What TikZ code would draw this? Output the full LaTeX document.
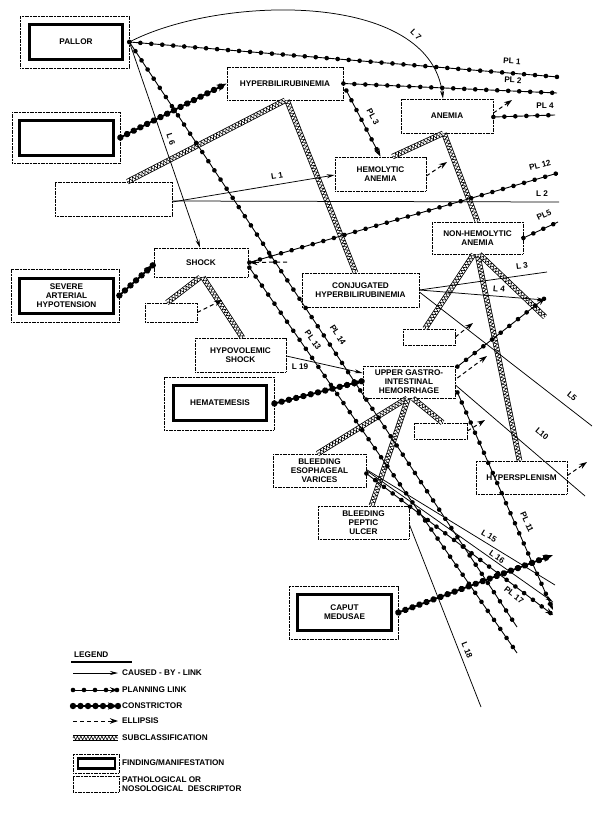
\documentclass[tikz,border=0pt]{standalone}
\usepackage{fontspec}
\setmainfont{Liberation Sans}
\usetikzlibrary{arrows.meta,decorations.markings,decorations.pathmorphing,calc}
\begin{document}
\begin{tikzpicture}[x=1pt,y=-1pt,
  every node/.style={font=\fontsize{8.2}{9}\selectfont\bfseries},
  desc/.style={draw, line width=0.75pt, dash pattern=on 1.2pt off 0.4pt, inner sep=0pt, align=center},
  findout/.style={draw, line width=0.75pt, dash pattern=on 1.2pt off 0.4pt, inner sep=0pt},
  findin/.style={draw, line width=2.8pt, inner sep=0pt, align=center},
  lab/.style={inner sep=0.5pt},
  cause/.style={line width=0.75pt},
  causearr/.style={cause, -{Stealth[length=8pt,width=4pt]}},
  plan/.style={line width=0.9pt, postaction={decorate, decoration={markings, mark=between positions 0 and 1 step 11pt with {\fill (0,0) circle (2.3pt);}}}},
  planarr/.style={plan, -{Stealth[length=8pt,width=5.5pt]}},
  constr/.style={line width=1.8pt, -{Stealth[length=10pt,width=7pt]}, postaction={decorate, decoration={markings, mark=between positions 0 and 1 step 7.5pt with {\fill (0,0) circle (3.2pt);}}}},
  ellip/.style={line width=1pt, dash pattern=on 4pt off 3pt, -{Stealth[length=8pt,width=5.5pt]}},
  subcl/.style={draw=black, line width=5.5pt, postaction={draw=white, line width=3.9pt}, postaction={draw=black, line width=0.6pt, decorate, decoration={zigzag, segment length=3.5pt, amplitude=1.9pt}}},
]
\path[fill=white] (0,0) rectangle (600,813);
\useasboundingbox (0,0) rectangle (600,813);

% ---------- boxes ----------
\node[findout, minimum width=109, minimum height=52] (pallorout) at (74.5,42) {};
\node[findin, minimum width=93, minimum height=35] (pallor) at (76,42) {PALLOR};
\node[findout, minimum width=108, minimum height=51] (box2out) at (66,137.5) {};
\node[findin, minimum width=94, minimum height=35] (box2) at (66.5,138) {};
\node[desc, minimum width=117, minimum height=34] (box3) at (113.5,199) {};
\node[desc, minimum width=116, minimum height=33] (hyperbili) at (285,83.5) {HYPERBILIRUBINEMIA};
\node[desc, minimum width=92, minimum height=34] (anemia) at (447,116) {ANEMIA};
\node[desc, minimum width=91, minimum height=34] (hemolytic) at (380.5,174) {HEMOLYTIC\\ANEMIA};
\node[desc, minimum width=91, minimum height=32] (nonhem) at (477.5,238) {NON-HEMOLYTIC\\ANEMIA};
\node[desc, minimum width=117, minimum height=34] (conj) at (360.5,290) {CONJUGATED\\HYPERBILIRUBINEMIA};
\node[desc, minimum width=52, minimum height=16] (smallR) at (429,337) {};
\node[desc, minimum width=94, minimum height=29] (shock) at (201,262.5) {SHOCK};
\node[findout, minimum width=108, minimum height=53] (severeout) at (65,295.5) {};
\node[findin, minimum width=94, minimum height=35] (severe) at (66.5,296) {SEVERE\\ARTERIAL\\HYPOTENSION};
\node[desc, minimum width=52, minimum height=19] (smallS) at (171,312.5) {};
\node[desc, minimum width=91, minimum height=34] (hypovol) at (240.5,355) {HYPOVOLEMIC\\SHOCK};
\node[findout, minimum width=110, minimum height=53] (hematout) at (219,403.5) {};
\node[findin, minimum width=93, minimum height=35] (hemat) at (220,403) {HEMATEMESIS};
\node[desc, minimum width=92, minimum height=32] (ugi) at (409,382) {UPPER GASTRO-\\INTESTINAL\\HEMORRHAGE};
\node[desc, minimum width=53, minimum height=16] (smallU) at (440.5,431) {};
\node[desc, minimum width=93, minimum height=33] (esoph) at (319.5,470.5) {BLEEDING\\ESOPHAGEAL\\VARICES};
\node[desc, minimum width=91, minimum height=33] (peptic) at (363.5,522.5) {BLEEDING\\PEPTIC\\ULCER};
\node[desc, minimum width=91, minimum height=33] (hypersp) at (521.5,477.5) {HYPERSPLENISM};
\node[findout, minimum width=109, minimum height=53] (caputout) at (343.5,612.5) {};
\node[findin, minimum width=94, minimum height=36] (caput) at (344.5,612.5) {CAPUT\\MEDUSAE};

% ---------- free ends ----------
\coordinate (pl1e) at (558,77);
\coordinate (pl2e) at (557,93);
\coordinate (pl4e) at (555,115);
\coordinate (pl5e) at (558,222);
\coordinate (pl12e) at (558,173);
\coordinate (l2e) at (559,202);
\coordinate (l3e) at (547,272);
\coordinate (l4e) at (545,300);
\coordinate (ugiple) at (545,298);
\coordinate (l5e) at (592,426);
\coordinate (l10e) at (585,496);
\coordinate (pl11e) at (553,610);
\coordinate (l15e) at (555,585);
\coordinate (l16e) at (553,602);
\coordinate (pl17e) at (553,615);
\coordinate (pl13e) at (517,653);
\coordinate (pl14e) at (517,627);
\coordinate (l18e) at (481,707);
\coordinate (c4e) at (553,555);
\coordinate (s6e) at (545,317);
\coordinate (e1) at (512,100);
\coordinate (e2) at (447,162);
\coordinate (e3) at (222,300);
\coordinate (e4) at (473,323);
\coordinate (e5) at (487,356);
\coordinate (e6) at (485,420);
\coordinate (e7) at (587,462);
\coordinate (e8) at (287,262);

% ---------- subclassifications ----------
\draw[subcl] (hyperbili.south) -- ($(box3.north)+(14,0)$);
\draw[subcl] ($(hyperbili.south)+(2,0)$) -- ($(conj.north)+(-5,0)$);
\draw[subcl] ($(anemia.south)+(-4,0)$) -- ($(hemolytic.north)+(12,0)$);
\draw[subcl] ($(anemia.south)+(-3,0)$) -- (nonhem.north);
\draw[subcl] ($(nonhem.south)+(-4,0)$) -- ($(smallR.north)+(-4,0)$);
\draw[subcl] (nonhem.south) -- ($(hypersp.north)+(-2,0)$);
\draw[subcl] ($(nonhem.south)+(2,0)$) -- (s6e);
\draw[subcl] ($(shock.south)+(-1,0)$) -- ($(smallS.north)+(-4,0)$);
\draw[subcl] ($(shock.south)+(2,0)$) -- ($(hypovol.north)+(2,0)$);
\draw[subcl] ($(ugi.south)+(-2,0)$) -- ($(esoph.north)+(-2,0)$);
\draw[subcl] ($(ugi.south)+(-1,0)$) -- ($(peptic.north)+(8,0)$);
\draw[subcl] ($(ugi.south)+(4,0)$) -- ($(smallU.north)+(2,0)$);

% ---------- caused-by links ----------
\draw[causearr] (pallorout.east) .. controls (220,-5) and (430,-10) .. ($(anemia.north)+(-4,0)$);
\draw[causearr] (pallorout.east) -- ($(shock.north)+(-1,0)$);
\draw[causearr] ($(box3.east)+(0,3)$) -- ($(hemolytic.west)+(0,1)$);
\draw[cause] ($(box3.east)+(0,2)$) -- (l2e);
\draw[cause] (conj.east) -- (l3e);
\draw[causearr] (conj.east) -- (l4e);
\draw[cause] ($(conj.east)+(0,2)$) -- (l5e);
\draw[cause] ($(ugi.east)+(0,3)$) -- (l10e);
\draw[causearr] ($(hypovol.east)+(0,1)$) -- ($(ugi.west)+(0,-9)$);
\draw[cause] ($(esoph.east)+(0,-1)$) -- (l15e);
\draw[causearr] (esoph.east) -- (l16e);
\draw[cause] ($(peptic.east)+(0,2)$) -- (l18e);

% ---------- planning links ----------
\draw[plan] (pallorout.east) -- (pl1e);
\draw[plan] (pallorout.east) -- (pl14e);
\draw[plan] (hyperbili.east) -- (pl2e);
\draw[planarr] ($(hyperbili.east)+(3,7)$) -- (hemolytic.north);
\draw[plan] ($(anemia.east)+(0,1)$) -- (pl4e);
\draw[plan] (nonhem.east) -- (pl5e);
\draw[plan] ($(shock.east)+(1,0)$) -- (pl12e);
\draw[plan] ($(shock.east)+(1,5)$) -- (pl13e);
\draw[planarr] ($(ugi.north east)+(2,1)$) -- (ugiple);
\draw[planarr] ($(ugi.south east)+(2,-6)$) -- (pl11e);
\draw[planarr] ($(esoph.east)+(0,3)$) -- (pl17e);

% ---------- constrictors ----------
\draw[constr] (box2out.east) -- (hyperbili.west);
\draw[constr] (severeout.east) -- ($(shock.west)+(0,2)$);
\draw[constr] (hematout.east) -- ($(ugi.west)+(0,-1)$);
\draw[constr] (caputout.east) -- (c4e);

% ---------- ellipses ----------
\draw[ellip] ($(anemia.east)+(0,-3)$) -- (e1);
\draw[ellip] ($(hemolytic.east)+(0,2)$) -- (e2);
\draw[ellip] (smallS.east) -- (e3);
\draw[ellip] (smallR.east) -- (e4);
\draw[ellip] ($(ugi.east)+(2,-4)$) -- (e5);
\draw[ellip] (smallU.east) -- (e6);
\draw[ellip] ($(hypersp.east)+(0,-2)$) -- (e7);
\draw[ellip] (e8) -- ($(shock.east)+(1,0)$);

% ---------- link labels ----------
\node[lab, rotate=-45] (tl7) at (416,35) {L 7};
\node[lab, rotate=-72] (tl6) at (171,139) {L 6};
\node[lab, rotate=9] (tl1) at (277,176) {L 1};
\node[lab] (tl2) at (542,194) {L 2};
\node[lab, rotate=-4] (tpl1) at (512,61) {PL 1};
\node[lab, rotate=-2] (tpl2) at (513,80) {PL 2};
\node[lab, rotate=-62] (tpl3) at (373,117) {PL 3};
\node[lab] (tpl4) at (545,106) {PL 4};
\node[lab, rotate=25] (tpl5) at (544,215) {PL5};
\node[lab, rotate=15] (tpl12) at (540,165) {PL 12};
\node[lab, rotate=8] (tl3) at (522,266) {L 3};
\node[lab, rotate=-6] (tl4) at (499,289) {L 4};
\node[lab, rotate=-40] (tl5) at (572,396) {L5};
\node[lab, rotate=-40] (tl10) at (542,434) {L10};
\node[lab] (tl19) at (300,367) {L 19};
\node[lab, rotate=-57] (tpl14) at (338,335) {PL 14};
\node[lab, rotate=-55] (tpl13) at (313,340) {PL 13};
\node[lab, rotate=-66] (tpl11) at (527,522) {PL 11};
\node[lab, rotate=-31] (tl15) at (489,536) {L 15};
\node[lab, rotate=-35] (tl16) at (497,557) {L 16};
\node[lab, rotate=-38] (tpl17) at (514,595) {PL 17};
\node[lab, rotate=-68] (tl18) at (467,650) {L 18};

% ---------- legend ----------
\node[anchor=west, inner sep=0pt] (lgtitle) at (74,655) {LEGEND};
\coordinate (lgu1) at (71,662); \coordinate (lgu2) at (132,662);
\draw[line width=1.3pt] (lgu1) -- (lgu2);
\coordinate (lga1) at (73,673); \coordinate (lgb1) at (118,673);
\coordinate (lga2) at (73,690); \coordinate (lgb2) at (118,690);
\coordinate (lga3) at (73,706); \coordinate (lgb3) at (118,706);
\coordinate (lga4) at (73,721); \coordinate (lgb4) at (118,721);
\coordinate (lga5) at (73,738); \coordinate (lgb5) at (118,738);
\draw[causearr] (lga1) -- (lgb1);
\draw[planarr] (lga2) -- (lgb2);
\draw[constr] (lga3) -- (lgb3);
\draw[ellip] (lga4) -- (lgb4);
\draw[subcl] (lga5) -- (lgb5);
\node[anchor=west, inner sep=0pt] (lgt1) at (122,673) {CAUSED - BY - LINK};
\node[anchor=west, inner sep=0pt] (lgt2) at (122,690) {PLANNING LINK};
\node[anchor=west, inner sep=0pt] (lgt3) at (122,706) {CONSTRICTOR};
\node[anchor=west, inner sep=0pt] (lgt4) at (122,721) {ELLIPSIS};
\node[anchor=west, inner sep=0pt] (lgt5) at (122,738) {SUBCLASSIFICATION};
\node[findout, minimum width=46, minimum height=19] (lgfout) at (96,763.5) {};
\node[findin, line width=2.2pt, minimum width=37, minimum height=10] (lgfin) at (96.5,763.5) {};
\node[anchor=west, inner sep=0pt] (lgt6) at (122,763) {FINDING/MANIFESTATION};
\node[desc, minimum width=46, minimum height=16] (lgdesc) at (96,784) {};
\node[anchor=west, inner sep=0pt, align=left] (lgt7) at (122,784) {PATHOLOGICAL OR\\NOSOLOGICAL\ \ DESCRIPTOR};
\end{tikzpicture}
\end{document}
